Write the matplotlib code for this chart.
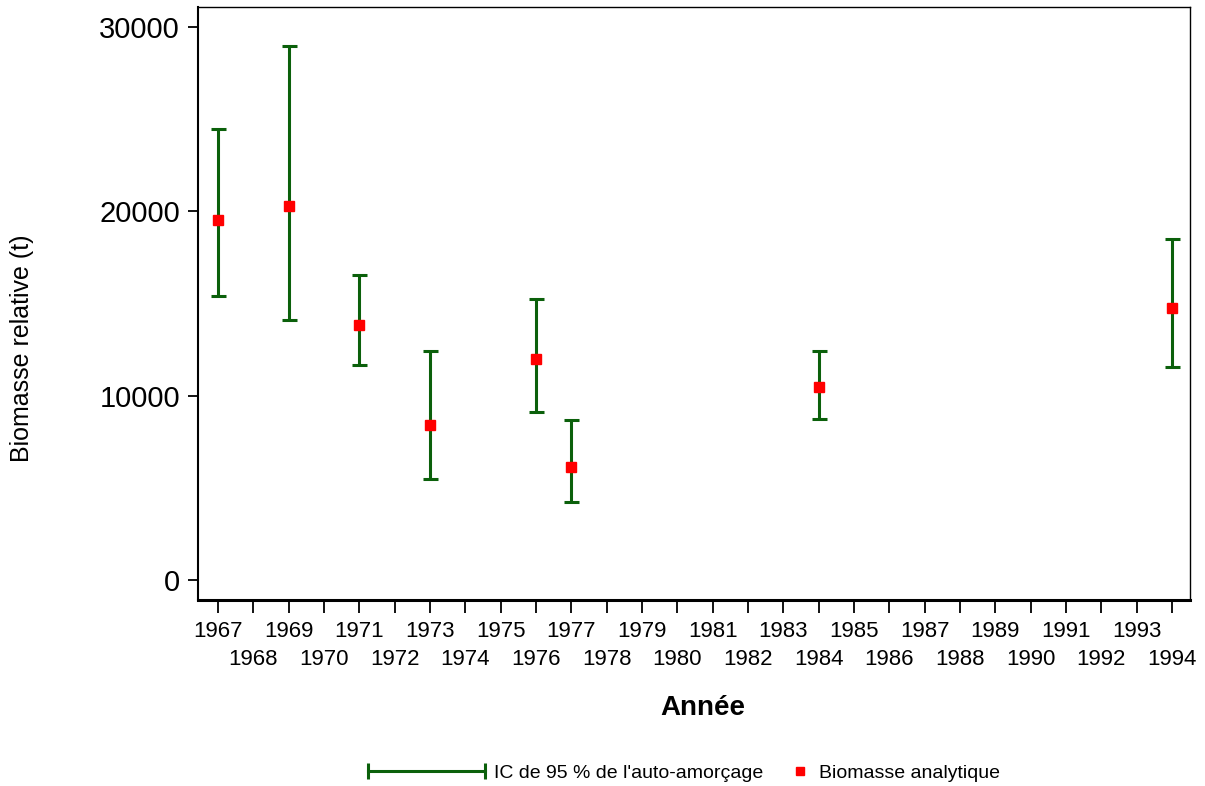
import matplotlib
matplotlib.use("Agg")
from matplotlib import pyplot as plt
from matplotlib.lines import Line2D
from matplotlib.legend_handler import HandlerLine2D

plt.rcParams['font.family'] = ['Liberation Sans', 'DejaVu Sans']

# donnees
annees = [1967, 1969, 1971, 1973, 1976, 1977, 1984, 1994]
biomasse = [19550, 20300, 13850, 8400, 12000, 6150, 10450, 14750]
ic_haut = [24450, 28950, 16550, 12450, 15250, 8700, 12400, 18500]
ic_bas = [15400, 14100, 11650, 5500, 9100, 4250, 8750, 11550]
annees_impaires = list(range(1967, 1995, 2))
annees_paires = list(range(1968, 1995, 2))
ticks_y = [0, 10000, 20000, 30000]

vert = '#0b600b'
rouge = '#ff0000'

fig = plt.figure(figsize=(12.05, 7.86), dpi=100)
ax = fig.add_axes([198 / 1205, 1 - 600 / 786, 992 / 1205, 593 / 786])

err_bas = [b - l for b, l in zip(biomasse, ic_bas)]
err_haut = [h - b for b, h in zip(biomasse, ic_haut)]
ax.errorbar(annees, biomasse, yerr=[err_bas, err_haut], fmt='none',
            ecolor=vert, elinewidth=2.2, capsize=5.4, capthick=2.2, zorder=2)
ax.plot(annees, biomasse, 's', color=rouge, markersize=7, zorder=3)

ax.set_xlim(1966.43, 1994.51)
ax.set_ylim(-1085, 31085)
# annees impaires sur la premiere ligne, paires en dessous
ax.set_xticks(annees_impaires)
ax.set_xticklabels([str(a) for a in annees_impaires], fontsize=16)
ax.set_xticks(annees_paires, minor=True)
ax.set_xticklabels([str(a) for a in annees_paires], minor=True, fontsize=16)
ax.set_yticks(ticks_y)
ax.set_yticklabels([str(v) for v in ticks_y], fontsize=21)
ax.tick_params(axis='x', which='major', length=9, width=1.3, pad=6)
ax.tick_params(axis='x', which='minor', length=9, width=1.3, pad=26)
ax.tick_params(axis='y', length=7, width=1.3, pad=6)

for side in ['top', 'right']:
    ax.spines[side].set_linewidth(1.0)
ax.spines['left'].set_linewidth(1.5)
ax.spines['bottom'].set_linewidth(2.2)

ax.set_ylabel('Biomasse relative (t)', fontsize=18)
ax.yaxis.set_label_coords(-0.165, 0.425)
ax.set_xlabel('Année', fontsize=20, fontweight='semibold')
ax.xaxis.set_label_coords(0.509, -0.16)

# legende en deux morceaux pour placer chaque entree
h_ic = Line2D([], [], color=vert, linewidth=2.2, marker='|', markersize=11,
              markeredgewidth=2.2)
h_bio = Line2D([], [], color=rouge, marker='s', linestyle='none', markersize=6)
fig.legend([h_ic], ["IC de 95 % de l'auto-amorçage"],
           loc='center left', bbox_to_anchor=(368 / 1205, 1 - 773 / 786),
           frameon=False, fontsize=14, handlelength=6.0, handletextpad=0.5,
           borderpad=0, borderaxespad=0,
           handler_map={h_ic: HandlerLine2D(numpoints=2, marker_pad=0)})
fig.legend([h_bio], ['Biomasse analytique'],
           loc='center left', bbox_to_anchor=(790 / 1205, 1 - 773 / 786),
           frameon=False, fontsize=14, handlelength=1.0, handletextpad=0.5,
           borderpad=0, borderaxespad=0)

fig.savefig('out.png', dpi=100)
